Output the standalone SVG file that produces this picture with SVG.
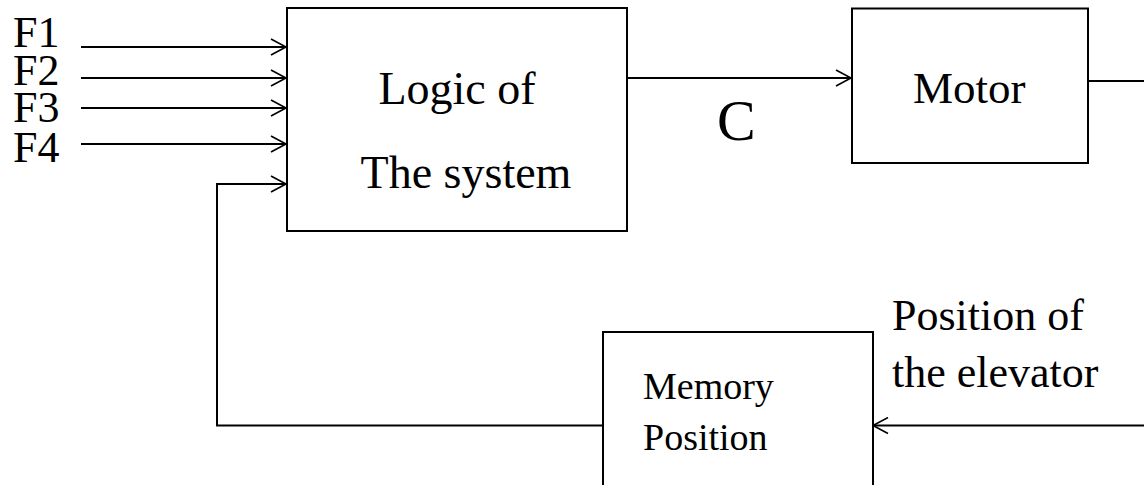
<svg xmlns="http://www.w3.org/2000/svg" width="1144" height="485" viewBox="0 0 1144 485">
<defs>
<marker id="arr" markerWidth="18" markerHeight="18" refX="16" refY="9" orient="auto" markerUnits="userSpaceOnUse">
<path d="M1,1 L16,9 L1,17" fill="none" stroke="#000" stroke-width="1.6"/>
</marker>
<style>
.box{fill:#fff;stroke:#000;stroke-width:2}
.ln{fill:none;stroke:#000;stroke-width:2}
text{font-family:"Liberation Serif","Times New Roman",serif;fill:#000}
</style>
</defs>
<rect width="1144" height="485" fill="#fff"/>
<g id="connectors">
<line class="ln" x1="81" y1="47" x2="286" y2="47" marker-end="url(#arr)"/>
<line class="ln" x1="81" y1="78" x2="286" y2="78" marker-end="url(#arr)"/>
<line class="ln" x1="81" y1="108" x2="286" y2="108" marker-end="url(#arr)"/>
<line class="ln" x1="81" y1="144" x2="286" y2="144" marker-end="url(#arr)"/>
<polyline class="ln" points="603,425.5 217,425.5 217,184 286,184" marker-end="url(#arr)"/>
<line class="ln" x1="627" y1="78" x2="851" y2="78" marker-end="url(#arr)"/>
<line class="ln" x1="1088" y1="81" x2="1144" y2="81"/>
<line class="ln" x1="1144" y1="425.5" x2="873" y2="425.5" marker-end="url(#arr)"/>
<text x="717" y="140" font-size="58">C</text>
<text x="892" y="330" font-size="44">Position of</text>
<text x="892" y="387" font-size="44">the elevator</text>
</g>
<g id="inputs">
<text x="13" y="47" font-size="44">F1</text>
<text x="13" y="85" font-size="44">F2</text>
<text x="13" y="122" font-size="44">F3</text>
<text x="13" y="162" font-size="44">F4</text>
</g>
<g id="logic">
<rect class="box" x="287" y="8" width="340" height="223"/>
<text x="457" y="104" font-size="46" text-anchor="middle">Logic of</text>
<text x="466" y="188" font-size="46" text-anchor="middle">The system</text>
</g>
<g id="motor">
<rect class="box" x="852" y="8.5" width="236" height="154.5"/>
<text x="913" y="103" font-size="45">Motor</text>
</g>
<g id="memory">
<rect class="box" x="603" y="332" width="270" height="170"/>
<text x="643" y="399" font-size="38">Memory</text>
<text x="643" y="450" font-size="38">Position</text>
</g>
</svg>
